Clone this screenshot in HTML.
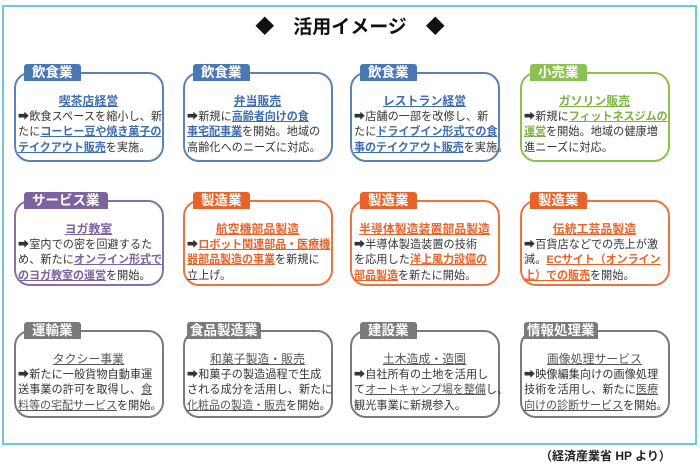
<!DOCTYPE html>
<html><head><meta charset="utf-8"><style>
body{margin:0;width:700px;height:465px;background:#fff;position:relative;font-family:"Liberation Sans","Noto Sans CJK JP",sans-serif;overflow:hidden}
.frame{position:absolute;left:2px;top:5px;width:691px;height:436px;border:2px solid #6cc9d9}
.title{position:absolute;left:0;width:700px;top:12px;text-align:center;font-size:19px;font-weight:bold;color:#111}
.card{position:absolute;width:150px;border:2px solid;border-radius:16px;background:#fff;font-size:11.1px;line-height:15.5px;color:#333;padding:20px 0 0 2px;box-sizing:border-box;white-space:nowrap;letter-spacing:0.1px}
.tag{position:absolute;top:-8px;left:10px;color:#fff;font-weight:bold;font-size:13.5px;line-height:17px;padding:0 8px;border-radius:3px 3px 0 0;letter-spacing:0}
.t{text-align:center;font-weight:bold;text-decoration:underline;margin-right:3px;font-size:11.8px}
.u{text-decoration:underline;font-weight:bold;letter-spacing:-0.1px}
.b{border-color:#5a82bb}.b .t,.b .u{color:#3f6db0}
.g{border-color:#8cc152}.g .t,.g .u{color:#7cb342}
.p{border-color:#8a70ab}.p .t,.p .u{color:#7d62a0}
.o{border-color:#ea7340}.o .t,.o .u{color:#e8632a}
.k{border-color:#7a7a7a}.k .t,.k .u{color:#555;font-weight:normal}
.src{position:absolute;left:540px;top:447px;font-size:12px;font-weight:bold;color:#222}
.w{position:absolute}
</style></head><body>
<div class="frame"></div>
<div class="title">◆　活用イメージ　◆</div>

<div class="w" style="left:14px;top:72px"><div class="card b" style="position:relative;height:90px"><div class="t">喫茶店経営</div>➡飲食スペースを縮小し、新<br>たに<span class="u">コーヒー豆や焼き菓子の</span><br><span class="u">テイクアウト販売</span>を実施。</div><div class="tag" style="background:#4a78b5">飲食業</div></div>
<div class="w" style="left:183px;top:72px"><div class="card b" style="position:relative;height:90px"><div class="t">弁当販売</div>➡新規に<span class="u">高齢者向けの食</span><br><span class="u">事宅配事業</span>を開始。地域の<br>高齢化へのニーズに対応。</div><div class="tag" style="background:#4a78b5">飲食業</div></div>
<div class="w" style="left:350px;top:72px"><div class="card b" style="position:relative;height:90px"><div class="t">レストラン経営</div>➡店舗の一部を改修し、新<br>たに<span class="u">ドライブイン形式での食</span><br><span class="u">事のテイクアウト販売</span>を実施。</div><div class="tag" style="background:#4a78b5">飲食業</div></div>
<div class="w" style="left:520px;top:72px"><div class="card g" style="position:relative;height:90px"><div class="t">ガソリン販売</div>➡新規に<span class="u">フィットネスジムの</span><br><span class="u">運営</span>を開始。地域の健康増<br>進ニーズに対応。</div><div class="tag" style="background:#8cc152">小売業</div></div>

<div class="w" style="left:14px;top:200px"><div class="card p" style="position:relative;height:86px"><div class="t">ヨガ教室</div>➡室内での密を回避するた<br>め、新たに<span class="u">オンライン形式で</span><br><span class="u">のヨガ教室の運営</span>を開始。</div><div class="tag" style="background:#7d62a0">サービス業</div></div>
<div class="w" style="left:183px;top:200px"><div class="card o" style="position:relative;height:86px"><div class="t">航空機部品製造</div>➡<span class="u">ロボット関連部品・医療機</span><br><span class="u">器部品製造の事業</span>を新規に<br>立上げ。</div><div class="tag" style="background:#e8632a">製造業</div></div>
<div class="w" style="left:350px;top:200px"><div class="card o" style="position:relative;height:86px"><div class="t">半導体製造装置部品製造</div>➡半導体製造装置の技術<br>を応用した<span class="u">洋上風力設備の</span><br><span class="u">部品製造</span>を新たに開始。</div><div class="tag" style="background:#e8632a">製造業</div></div>
<div class="w" style="left:520px;top:200px"><div class="card o" style="position:relative;height:86px"><div class="t">伝統工芸品製造</div>➡百貨店などでの売上が激<br>減。<span class="u">ECサイト（オンライン</span><br><span class="u">上）での販売</span>を開始。</div><div class="tag" style="background:#e8632a">製造業</div></div>

<div class="w" style="left:14px;top:330px"><div class="card k" style="position:relative;height:88px"><div class="t">タクシー事業</div>➡新たに一般貨物自動車運<br>送事業の許可を取得し、<span class="u">食</span><br><span class="u">料等の宅配サービス</span>を開始。</div><div class="tag" style="background:#7a7a7a">運輸業</div></div>
<div class="w" style="left:183px;top:330px"><div class="card k" style="position:relative;height:88px"><div class="t">和菓子製造・販売</div>➡和菓子の製造過程で生成<br>される成分を活用し、新たに<br><span class="u">化粧品の製造・販売</span>を開始。</div><div class="tag" style="background:#7a7a7a;left:4px;padding:0 3px">食品製造業</div></div>
<div class="w" style="left:350px;top:330px"><div class="card k" style="position:relative;height:88px"><div class="t">土木造成・造園</div>➡自社所有の土地を活用し<br>て<span class="u">オートキャンプ場を整備</span>し、<br>観光事業に新規参入。</div><div class="tag" style="background:#7a7a7a">建設業</div></div>
<div class="w" style="left:520px;top:330px"><div class="card k" style="position:relative;height:88px"><div class="t">画像処理サービス</div>➡映像編集向けの画像処理<br>技術を活用し、新たに<span class="u">医療</span><br><span class="u">向けの診断サービス</span>を開始。</div><div class="tag" style="background:#7a7a7a;left:4px;padding:0 3px">情報処理業</div></div>

<div class="src">（経済産業省 HP より）</div>
</body></html>
